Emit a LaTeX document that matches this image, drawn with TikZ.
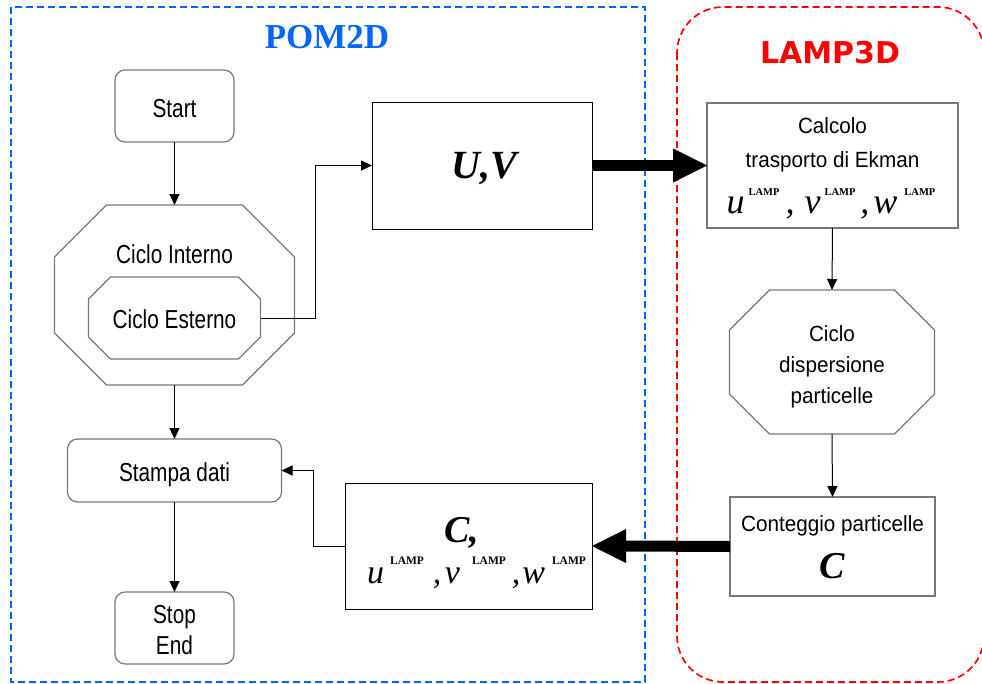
\documentclass[tikz,border=0pt]{standalone}
\usepackage{fontspec}
\setmainfont{Liberation Serif}
\newfontfamily\arialL{Liberation Sans}[FakeStretch=0.8]
\newfontfamily\arialR{Liberation Sans}[FakeStretch=0.94]
\newfontfamily\comicf{DejaVu Sans}
\usetikzlibrary{arrows.meta,calc}
\definecolor{pomblue}{RGB}{0,102,255}
\definecolor{lampred}{RGB}{255,0,0}
\definecolor{boxgray}{RGB}{120,120,120}
\newcommand\Lsup[2]{\raisebox{#2}{\fontsize{#1}{#1}\selectfont\upshape\bfseries LAMP}}
\newcommand\octpath[2]{\draw[octline] ($(#1.north west)+(#2,0)$) -- ($(#1.north east)+(-#2,0)$) -- ($(#1.north east)+(0,#2)$) -- ($(#1.south east)+(0,-#2)$) -- ($(#1.south east)+(-#2,0)$) -- ($(#1.south west)+(#2,0)$) -- ($(#1.south west)+(0,-#2)$) -- ($(#1.north west)+(0,#2)$) -- cycle;}
\begin{document}
\begin{tikzpicture}[x=1pt,y=-1pt,
  lbl/.style={inner sep=0pt, outer sep=0pt, anchor=base},
  ltxt/.style={lbl, font=\arialL\fontsize{26}{31}\selectfont},
  rtxt/.style={lbl, font=\arialR\fontsize{22}{31}\selectfont},
  bigm/.style={lbl, font=\fontsize{40}{40}\selectfont\bfseries\itshape},
  ghost/.style={draw=none, inner sep=0pt, outer sep=0pt},
  rbox/.style={draw=boxgray, line width=1.2pt, rounded corners=10pt, inner sep=0pt, outer sep=0pt},
  gbox/.style={draw=boxgray, line width=1.2pt, inner sep=0pt, outer sep=0pt},
  kbox/.style={draw=black, line width=0.9pt, inner sep=0pt, outer sep=0pt},
  octline/.style={draw=boxgray, line width=1.2pt},
  conn/.style={draw=black, line width=1pt, -{Triangle[length=11pt,width=10pt]}},
  region/.style={line width=1.7pt, dash pattern=on 7pt off 4pt}
]
\useasboundingbox (0,0) rectangle (982,683);
% regions
\draw[region, pomblue] (11,7) rectangle (645,682);
\draw[region, lampred, rounded corners=46pt] (677,7) rectangle (984,682);
\node[lbl, font=\fontsize{35}{35}\selectfont\bfseries, text=pomblue] (tpom) at (327,48) {POM2D};
\node[lbl, font=\comicf\fontsize{30}{30}\selectfont\bfseries, text=lampred] (tlamp) at (830,63) {LAMP3D};
% left flow
\node[rbox, minimum width=119pt, minimum height=72pt] (start) at (174.5,106) {};
\node[ltxt] (tstart) at (174.5,117) {Start};
\node[ghost, minimum width=240pt, minimum height=180pt] (outer) at (174.5,295) {};
\octpath{outer}{52}
\node[ltxt] (tint) at (174.5,263) {Ciclo Interno};
\node[ghost, minimum width=172pt, minimum height=82pt] (inner) at (174.5,318) {};
\octpath{inner}{22}
\node[ltxt] (test) at (174.5,328) {Ciclo Esterno};
\node[rbox, minimum width=214pt, minimum height=63pt] (stampa) at (174.5,470.5) {};
\node[ltxt] (tstampa) at (174.5,481) {Stampa dati};
\node[rbox, minimum width=119pt, minimum height=72pt] (stop) at (174.5,628) {};
\node[ltxt] (tstop) at (174.5,623) {Stop};
\node[ltxt] (tend) at (174.5,654) {End};
% middle boxes
\node[kbox, minimum width=220pt, minimum height=127pt] (uv) at (482,165.5) {};
\node[bigm] (tuv) at (484,178) {U,V};
\node[kbox, minimum width=247pt, minimum height=126pt] (cbox) at (468.5,546) {};
\node[lbl, font=\fontsize{38}{38}\selectfont\bfseries\itshape] (tc1) at (462,542) {C,};
\node[lbl, font=\fontsize{34}{34}\selectfont\itshape] (tc2) at (476.5,583) {u\hspace{6pt}\Lsup{11.5}{19pt}\hspace{9pt},\hspace{3.5pt}v\hspace{12pt}\Lsup{11.5}{19pt}\hspace{6pt},\hspace{2pt}w\hspace{7pt}\Lsup{11.5}{19pt}};
% right flow
\node[gbox, minimum width=251pt, minimum height=125pt] (calc) at (832.5,165.5) {};
\node[rtxt] (tcalc1) at (832.5,133) {Calcolo};
\node[rtxt] (tcalc2) at (832.5,167) {trasporto di Ekman};
\node[lbl, font=\fontsize{36}{36}\selectfont\itshape] (tcalc3) at (831,213) {u\hspace{4pt}\Lsup{10.5}{18pt}\hspace{6pt},\hspace{10pt}v\hspace{4pt}\Lsup{10.5}{18pt}\hspace{5pt},\hspace{4pt}w\hspace{7pt}\Lsup{10.5}{18pt}};
\node[ghost, minimum width=205pt, minimum height=144pt] (disp) at (832,362) {};
\octpath{disp}{40}
\node[rtxt] (td1) at (832,341) {Ciclo};
\node[rtxt] (td2) at (832,372) {dispersione};
\node[rtxt] (td3) at (832,403) {particelle};
\node[gbox, minimum width=205pt, minimum height=99pt] (cont) at (832.5,546.5) {};
\node[rtxt] (tcont) at (832.5,531) {Conteggio particelle};
\node[lbl, font=\fontsize{38}{38}\selectfont\bfseries\itshape] (tcontc) at (832.5,578) {C};
% connectors
\draw[conn] (start.south) -- (outer.north);
\draw[conn] (outer.south) -- (stampa.north);
\draw[conn] (stampa.south) -- (stop.north);
\draw[conn] (inner.east) -- ++(55,0) |- (uv.west);
\draw[conn] (cbox.west) -- ++(-32,0) |- (stampa.east);
\draw[conn] (calc.south) -- (disp.north);
\draw[conn] (disp.south) -- (cont.north);
% big arrows
\draw[line width=11pt] (uv.east) -- ($(calc.west)+(-33,0)$);
\fill ($(calc.west)+(-34,-17)$) -- (calc.west) -- ($(calc.west)+(-34,17)$) -- cycle;
\draw[line width=11pt] (cont.west) -- ($(cbox.east)+(33,0)$);
\fill ($(cbox.east)+(34,-17)$) -- (cbox.east) -- ($(cbox.east)+(34,17)$) -- cycle;
\end{tikzpicture}
\end{document}
